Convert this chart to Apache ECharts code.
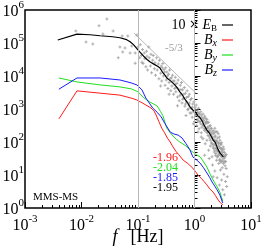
<!DOCTYPE html>
<html><head><meta charset="utf-8">
<script src="https://cdn.jsdelivr.net/npm/echarts@6/dist/echarts.min.js"></script>
<style>html,body{margin:0;padding:0;background:#fff}#c{width:262px;height:249px}</style>
</head><body><div id="c"></div>
<script>
// all values are log10 of frequency [Hz] and log10 of spectral power
const ebLogF=[-2.42,-2.08,-1.85,-1.67,-1.45,-1.32,-1.20,-1.14,-1.08,-1.02,-0.97,-0.90,-0.84,-0.79,-0.72,-0.66,-0.61,-0.56,-0.52,-0.49,-0.43,-0.39,-0.35,-0.30,-0.26,-0.22,-0.17,-0.12,-0.08,-0.03,0.02,0.06,0.10,0.14,0.18,0.22,0.26,0.30,0.33,0.37,0.41,0.45,0.48,0.51];
const ebLogV=[5.09,5.27,5.25,5.22,5.19,5.16,5.10,5.04,4.95,4.83,4.73,4.60,4.50,4.43,4.36,4.30,4.24,4.10,4.02,3.94,3.86,3.80,3.73,3.63,3.52,3.44,3.30,3.18,3.06,2.97,2.90,2.80,2.73,2.62,2.48,2.36,2.28,2.16,2.06,1.98,1.80,1.67,1.62,1.55];
const bxLogF=[-2.40,-2.08,-1.67,-1.32,-1.12,-1.03,-0.95,-0.86,-0.77,-0.72,-0.68,-0.63,-0.58,-0.53,-0.48,-0.43,-0.38,-0.33,-0.28,-0.20,-0.12,-0.03,0.02,0.06,0.12,0.17,0.22,0.27,0.33,0.37,0.42,0.46,0.50];
const bxLogV=[2.70,3.55,3.48,3.42,3.33,3.28,3.21,3.12,3.03,2.95,2.82,2.62,2.42,2.28,2.12,2.00,1.85,1.72,1.62,1.45,1.35,1.21,1.10,1.00,0.90,0.80,0.70,0.58,0.48,0.38,0.24,0.16,0.09];
const byLogF=[-2.40,-2.08,-1.67,-1.32,-1.12,-1.00,-0.91,-0.85,-0.79,-0.72,-0.66,-0.60,-0.56,-0.52,-0.49,-0.43,-0.38,-0.32,-0.26,-0.15,-0.08,-0.02,0.04,0.10,0.16,0.22,0.27,0.31,0.36,0.40,0.45,0.50];
const byLogV=[3.94,3.82,3.73,3.67,3.61,3.52,3.36,3.28,3.21,3.15,3.09,2.92,2.80,2.58,2.42,2.28,2.18,2.08,2.00,1.88,1.76,1.68,1.61,1.55,1.40,1.24,1.05,0.91,0.76,0.64,0.48,0.21];
const bzLogF=[-2.40,-2.08,-1.67,-1.32,-1.12,-1.02,-0.93,-0.86,-0.80,-0.74,-0.66,-0.59,-0.52,-0.43,-0.36,-0.29,-0.22,-0.15,-0.08,-0.03,0.04,0.10,0.16,0.22,0.27,0.31,0.36,0.40,0.45,0.50];
const bzLogV=[3.60,3.94,3.94,3.88,3.79,3.73,3.58,3.33,3.18,3.03,2.90,2.76,2.55,2.30,2.24,2.21,2.12,1.95,1.76,1.55,1.45,1.36,1.22,1.06,0.92,0.79,0.66,0.55,0.39,0.15];
const ebScatter=[[-2.10,5.36],[-1.55,5.73],[-1.69,5.52],[-1.62,5.27],[-1.44,5.36],[-1.92,5.03],[-1.80,4.97],[-1.28,5.21],[-1.18,5.21],[-1.32,4.88],[-1.23,4.85],[-1.11,4.91],[-1.27,4.73],[-1.35,4.55],[-1.14,4.70],[-1.05,4.70],[-1.02,5.24],[-1.00,4.88],[-0.97,4.55],[-0.93,4.42],[-1.05,4.39],
[-0.96,4.95],[-0.94,4.62],[-0.92,4.80],[-0.91,4.38],[-0.89,4.70],[-0.88,4.52],[-0.86,4.28],[-0.85,4.75],[-0.84,4.60],[-0.83,4.18],[-0.81,4.88],[-0.80,4.55],[-0.78,4.30],[-0.77,4.66],[-0.76,4.10],[-0.74,4.48],[-0.73,4.62],[-0.71,4.22],[-0.70,4.40],[-0.69,4.02],[-0.67,4.55],[-0.66,4.18],[-0.64,4.36],[-0.63,3.92],[-0.62,4.48],[-0.60,4.08],[-0.59,4.30],[-0.58,3.85],[-0.56,4.38],[-0.55,4.00],[-0.54,4.20],[-0.52,3.72],[-0.51,4.25],[-0.50,3.88],[-0.49,4.12],[-0.47,3.62],[-0.46,4.05],[-0.45,3.80],[-0.44,4.18],[-0.42,3.55],[-0.41,3.95],[-0.40,3.70],[-0.39,4.02],[-0.37,3.45],[-0.36,3.85],[-0.35,3.62],[-0.34,3.96],[-0.33,3.52],[-0.31,3.78],[-0.30,3.36],[-0.29,3.88],[-0.28,3.60],[-0.27,3.25],[-0.25,3.72],[-0.24,3.45],[-0.23,3.80],[-0.22,3.18],[-0.21,3.58],[-0.19,3.32],[-0.18,3.65],[-0.17,3.08],[-0.16,3.48],[-0.14,3.22],[-0.13,3.55],[-0.12,2.98],[-0.11,3.38],[-0.10,3.12],[-0.09,3.45],[-0.08,2.88],[-0.07,3.28],[-0.06,3.02],[-0.05,3.32],[-0.04,2.75],[-0.03,3.15],[-0.02,2.92],[-0.01,3.22],[0.00,2.62],[0.01,3.05],[0.02,2.80],[0.03,3.12],[0.04,2.50],[0.05,2.95],[0.06,2.70],[0.07,3.02],[0.08,2.40],[0.09,2.85],[0.10,2.62],[0.11,2.92],[0.12,2.28],[0.13,2.75],[0.14,2.52],[0.15,2.85],[0.15,2.10],[0.16,2.65],[0.17,2.40],[0.18,2.78],[0.19,1.95],[0.20,2.55],[0.21,2.30],[0.22,2.68],[0.22,2.05],[0.23,2.45],[0.24,2.20],[0.25,2.60],[0.25,1.75],[0.26,2.35],[0.27,2.12],[0.28,2.50],[0.28,1.88],[0.29,2.25],[0.30,1.98],[0.30,2.42],[0.31,1.55],[0.32,2.15],[0.32,1.30],[0.33,2.35],[0.33,1.85],[0.34,2.05],[0.35,1.70],[0.35,2.28],[0.36,1.95],[0.36,1.12],[0.37,2.18],[0.37,1.60],[0.38,1.82],[0.38,2.32],[0.39,1.45],[0.39,2.02],[0.40,1.72],[0.40,0.92],[0.41,2.12],[0.41,1.55],[0.42,1.88],[0.42,2.25],[0.43,1.35],[0.43,1.98],[0.44,1.62],[0.44,0.70],[0.45,2.05],[0.45,1.48],[0.46,1.80],[0.46,1.15],[0.47,1.92],[0.47,1.58],[0.48,1.40],[0.48,0.85],[0.49,1.75],[0.49,1.22],[0.50,1.62],[0.50,0.55],[0.51,1.85],[0.51,1.35],[0.52,1.50],[0.52,1.02],[0.53,1.68],[0.53,0.40],[0.54,1.28],[0.54,1.55],[0.48,1.98],[0.44,2.15],[0.40,2.30],[0.36,2.42],[0.55,1.40],[0.55,0.80],[0.20,2.72],[0.26,1.50],[0.12,2.15],[0.06,2.30],[-0.02,2.55],[-0.15,2.80],[-0.30,3.10],[-0.45,3.45],[-0.60,3.70],[0.18,1.60],[0.33,0.95],[0.56,1.20],[0.57,0.65],[0.58,0.95],[0.56,1.62],
[0.11,2.55],[0.12,2.82],[0.13,2.45],[0.14,2.70],[0.16,2.50],[0.17,2.72],[0.18,2.35],[0.19,2.60],[0.20,2.40],[0.21,2.62],[0.23,2.28],[0.23,2.58],[0.24,2.42],[0.26,2.18],[0.26,2.48],[0.27,2.30],[0.28,2.05],[0.29,2.40],[0.30,2.22],[0.31,1.95],[0.31,2.30],[0.32,2.10],[0.33,1.92],[0.34,2.25],[0.34,1.80],[0.35,2.05],[0.36,1.75],[0.36,2.15],[0.37,1.90],[0.38,1.65],[0.38,2.05],[0.39,1.80],[0.40,1.55],[0.40,2.00],[0.41,1.75],[0.42,1.60],[0.42,1.95],[0.43,1.70],[0.44,1.45],[0.44,1.85],[0.45,1.65],[0.46,1.40],[0.46,1.95],[0.47,1.70],[0.48,1.55],[0.48,1.80],[0.49,1.45],[0.50,1.70],[0.51,1.55],[0.52,1.40],[0.52,1.78],[0.53,1.55],[0.54,1.42],[0.55,1.60],[0.02,2.98],[0.04,2.85],[0.05,2.65],[0.07,2.88],[0.08,2.62],[0.09,2.75],[-0.04,3.05],[-0.06,2.88],[-0.09,3.18],[-0.11,3.00],[-0.14,3.35],[-0.16,3.15],[-0.19,3.45],[-0.21,3.30],[-0.24,3.58],[-0.26,3.40],[-0.32,3.65],[-0.34,3.75],[-0.38,3.85],[-0.43,3.92],[-0.48,4.00],[-0.53,4.12],[-0.57,4.25]];
const refSlopeLogF=[-1.07,0.03];
const refSlopeLogV=[5.30,3.47];
const refVLinesLogF=[-1,0];
const slopeTexts=['-1.96','-2.04','-1.85','-1.95'];
const slopeColors=['#ff1a1a','#1ee01e','#1a1aff','#000000'];
const xExps=[-3,-2,-1,0,1];
const yExps=[0,1,2,3,4,5,6];

const serif='Liberation Serif';
const pairs=(a,b)=>a.map((x,i)=>[x,b[i]]);
const minorX=[];for(let d=xExps[0];d<xExps[xExps.length-1];d++)for(let k=2;k<=9;k++)minorX.push(d+Math.log10(k));
const minorY=[];for(let d=yExps[0];d<yExps[yExps.length-1];d++)for(let k=2;k<=9;k++)minorY.push(d+Math.log10(k));
const box={left:25,right:11,top:10,bottom:41,outerBoundsMode:'none',containLabel:false};
const tickRich={b:{fontFamily:serif,fontSize:16,lineHeight:20,verticalAlign:'bottom',color:'#000'},s:{fontFamily:serif,fontSize:11,lineHeight:8,verticalAlign:'top',color:'#000'}};
const powFmt=v=>'{b|10}{s|'+Math.round(v)+'}';
const legendFmt={EB:'{n|10 }{x|\u00D7}{n| }{i|E}{r|B}',Bx:'{i|B}{sub|x}',By:'{i|B}{sub|y}',Bz:'{i|B}{sub|z}'};

const chart=echarts.init(document.getElementById('c'),null,{renderer:'canvas',width:262,height:249});
const lineS=(name,f,v,color,w,z)=>({name,type:'line',data:pairs(f,v),symbol:'none',showSymbol:false,z,lineStyle:{color,width:w},itemStyle:{color},animation:false});
chart.setOption({
  animation:false,
  backgroundColor:'#fff',
  grid:[Object.assign({show:true,borderColor:'#000',borderWidth:1.5,backgroundColor:'transparent'},box),Object.assign({show:false},box)],
  xAxis:[
    {gridIndex:0,type:'value',min:-3,max:1,interval:1,position:'bottom',
     axisLine:{show:false},splitLine:{show:false},
     axisTick:{show:true,inside:true,length:6,lineStyle:{color:'#000',width:1}},
     axisLabel:{margin:6,formatter:powFmt,rich:tickRich},
     name:'{i|f}{sp| }[Hz]',nameLocation:'middle',nameGap:20,nameMoveOverlap:false,
     nameTextStyle:{fontFamily:serif,fontSize:18,color:'#000',verticalAlign:'top',rich:{i:{fontFamily:serif,fontStyle:'italic',fontSize:18,color:'#000'},sp:{fontFamily:serif,fontSize:18,width:13}}}},
    {gridIndex:1,type:'value',min:-3,max:1,position:'bottom',axisLine:{show:false},splitLine:{show:false},axisLabel:{show:false},
     axisTick:{show:true,inside:true,length:3,customValues:minorX,lineStyle:{color:'#000',width:1}}}
  ],
  yAxis:[
    {gridIndex:0,type:'value',min:0,max:6,interval:1,position:'left',
     axisLine:{show:false},splitLine:{show:false},
     axisTick:{show:true,inside:true,length:6,lineStyle:{color:'#000',width:1}},
     axisLabel:{margin:1,formatter:powFmt,rich:tickRich}},
    {gridIndex:1,type:'value',min:0,max:6,position:'left',axisLine:{show:false},splitLine:{show:false},axisLabel:{show:false},
     axisTick:{show:true,inside:true,length:3,customValues:minorY,lineStyle:{color:'#000',width:1}}}
  ],
  legend:{data:['EB','Bx','By','Bz'],orient:'vertical',right:24,top:13,align:'right',itemWidth:11,itemHeight:8,itemGap:0,
    icon:'path://M0,3.5H11V4.7H0Z',
    formatter:n=>legendFmt[n],
    textStyle:{fontFamily:serif,fontSize:14,color:'#000',rich:{
      n:{fontFamily:serif,fontSize:14,lineHeight:16,color:'#000'},
      x:{fontFamily:'DejaVu Sans',fontSize:12,lineHeight:16,color:'#000'},
      i:{fontFamily:serif,fontStyle:'italic',fontSize:14,lineHeight:16,color:'#000'},
      r:{fontFamily:serif,fontSize:9,lineHeight:7,verticalAlign:'bottom',color:'#000'},
      sub:{fontFamily:serif,fontStyle:'italic',fontSize:10,lineHeight:7,verticalAlign:'bottom',color:'#000'}}}},
  series:[
    {name:'scatter',type:'scatter',data:ebScatter,symbol:'path://M1,0h1v1h1v1h-1v1h-1v-1h-1v-1h1z',symbolSize:3,
     itemStyle:{color:'#999999'},z:1,silent:true},
    {name:'ref',type:'line',data:pairs(refSlopeLogF,refSlopeLogV),symbol:'none',z:1,lineStyle:{color:'#b8b8b8',width:1},
     markLine:{silent:true,symbol:'none',label:{show:false},lineStyle:{color:'#b8b8b8',width:1,type:'solid'},data:refVLinesLogF.map(v=>({xAxis:v}))}},
    lineS('Bx',bxLogF,bxLogV,'#ff1a1a',1,3),
    lineS('By',byLogF,byLogV,'#1ee01e',1,3),
    lineS('Bz',bzLogF,bzLogV,'#1a1aff',1,3),
    lineS('EB',ebLogF,ebLogV,'#000000',1.2,4)
  ],
  graphic:[
    ...slopeTexts.map((t,i)=>({type:'text',left:153,top:152+i*10,z:10,style:{text:t,fill:slopeColors[i],font:'12px "Liberation Serif"'}})),
    {type:'text',left:33,top:192,z:10,style:{text:'MMS-MS',fill:'#000',font:'11px "Liberation Serif"'}},
    {type:'text',left:165,top:43,z:10,style:{text:'-5/3',fill:'#999',font:'11px "Liberation Serif"'}}
  ]
});
</script></body></html>
